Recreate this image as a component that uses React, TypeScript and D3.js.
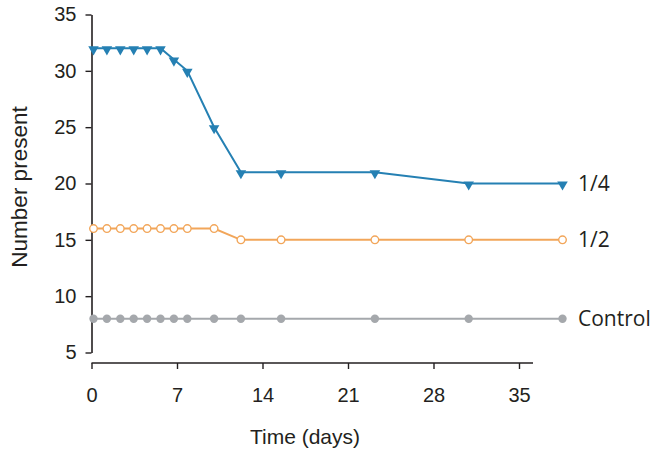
import { useEffect, useRef } from "react";
import * as d3 from "d3";

// Days sampled (same for all series)
const days = [0, 1, 2, 3, 4, 5, 6, 7, 9, 11, 14, 21, 28, 35];

const quarterValues = [32, 32, 32, 32, 32, 32, 31, 30, 25, 21, 21, 21, 20, 20];
const halfValues = [16, 16, 16, 16, 16, 16, 16, 16, 16, 15, 15, 15, 15, 15];
const controlValues = [8, 8, 8, 8, 8, 8, 8, 8, 8, 8, 8, 8, 8, 8];

const xTicks = [0, 7, 14, 21, 28, 35];
const yTicks = [5, 10, 15, 20, 25, 30, 35];

const seriesLabels = ["1/4", "1/2", "Control"];

export default function App() {
  const svgRef = useRef<SVGSVGElement>(null);

  useEffect(() => {
    const svg = d3.select(svgRef.current);
    svg.selectAll("*").remove();

    const width = 655;
    const height = 455;
    const axisColor = "#231f20";
    const tickFont = "'Liberation Sans', Arial, sans-serif";

    svg.attr("width", width).attr("height", height).style("background", "#fff");

    // The printed x axis does not line up with the plotted points,
    // so points and axis use their own scales.
    const xData = d3.scaleLinear().domain([0, 35]).range([93.5, 562.5]);
    const xAxisScale = d3.scaleLinear().domain([0, 35]).range([91.5, 519]);
    const yScale = d3.scaleLinear().domain([5, 35]).range([352.5, 14.5]);

    // y axis
    const yAxis = d3
      .axisLeft(yScale)
      .tickValues(yTicks)
      .tickSize(6)
      .tickSizeOuter(0)
      .tickPadding(9);
    const gy = svg.append("g").attr("transform", "translate(91.5,0)").call(yAxis);
    gy.select(".domain").attr("stroke", axisColor).attr("stroke-width", 1.6);
    gy.selectAll(".tick line").attr("stroke", axisColor).attr("stroke-width", 1.4);
    gy.selectAll(".tick text")
      .attr("fill", "#231f20")
      .style("font-family", tickFont)
      .style("font-size", "20px");

    // x axis
    const xAxis = d3
      .axisBottom(xAxisScale)
      .tickValues(xTicks)
      .tickSize(6)
      .tickSizeOuter(0)
      .tickPadding(19);
    const gx = svg.append("g").attr("transform", "translate(0,363)").call(xAxis);
    gx.select(".domain")
      .attr("d", `M${xAxisScale(0)},0H533`)
      .attr("stroke", axisColor)
      .attr("stroke-width", 1.6);
    gx.selectAll(".tick line").attr("stroke", axisColor).attr("stroke-width", 1.4);
    gx.selectAll(".tick text")
      .attr("fill", "#231f20")
      .style("font-family", tickFont)
      .style("font-size", "20px");

    const series = [
      { values: quarterValues, color: "#2580b3", marker: "triangle" },
      { values: halfValues, color: "#f2a65a", marker: "open" },
      { values: controlValues, color: "#a5a8ac", marker: "dot" },
    ];

    const line = d3
      .line<number>()
      .x((_, i) => xData(days[i]))
      .y((d) => yScale(d));

    series.forEach((s, si) => {
      svg
        .append("path")
        .datum(s.values)
        .attr("fill", "none")
        .attr("stroke", s.color)
        .attr("stroke-width", 2)
        .attr("d", line);

      const g = svg.append("g");
      if (s.marker === "triangle") {
        const tri = d3.symbol().type(d3.symbolTriangle).size(48);
        g.selectAll("path")
          .data(s.values)
          .enter()
          .append("path")
          .attr("d", tri)
          .attr(
            "transform",
            (d, i) => `translate(${xData(days[i])},${yScale(d) + 1}) rotate(180)`
          )
          .attr("fill", s.color);
      } else {
        g.selectAll("circle")
          .data(s.values)
          .enter()
          .append("circle")
          .attr("cx", (_, i) => xData(days[i]))
          .attr("cy", (d) => yScale(d))
          .attr("r", s.marker === "open" ? 3.8 : 4.2)
          .attr("fill", s.marker === "open" ? "#fff" : s.color)
          .attr("stroke", s.color)
          .attr("stroke-width", s.marker === "open" ? 1.4 : 0);
      }

      // series label at the right end
      const last = s.values[s.values.length - 1];
      svg
        .append("text")
        .attr("x", 578)
        .attr("y", yScale(last) + 7.5)
        .attr("fill", "#231f20")
        .style("font-family", "'Open Sans', 'Noto Sans', sans-serif")
        .style("font-size", "21px")
        .text(seriesLabels[si]);
    });

    // axis titles
    svg
      .append("text")
      .attr("x", 305)
      .attr("y", 444)
      .attr("text-anchor", "middle")
      .attr("fill", "#231f20")
      .style("font-family", tickFont)
      .style("font-size", "21px")
      .text("Time (days)");

    svg
      .append("text")
      .attr("transform", "translate(27,187) rotate(-90)")
      .attr("text-anchor", "middle")
      .attr("fill", "#231f20")
      .style("font-family", tickFont)
      .style("font-size", "22.5px")
      .text("Number present");
  }, []);

  return (
    <div style={{ position: "absolute", left: 0, top: 0 }}>
      <svg ref={svgRef}></svg>
    </div>
  );
}
